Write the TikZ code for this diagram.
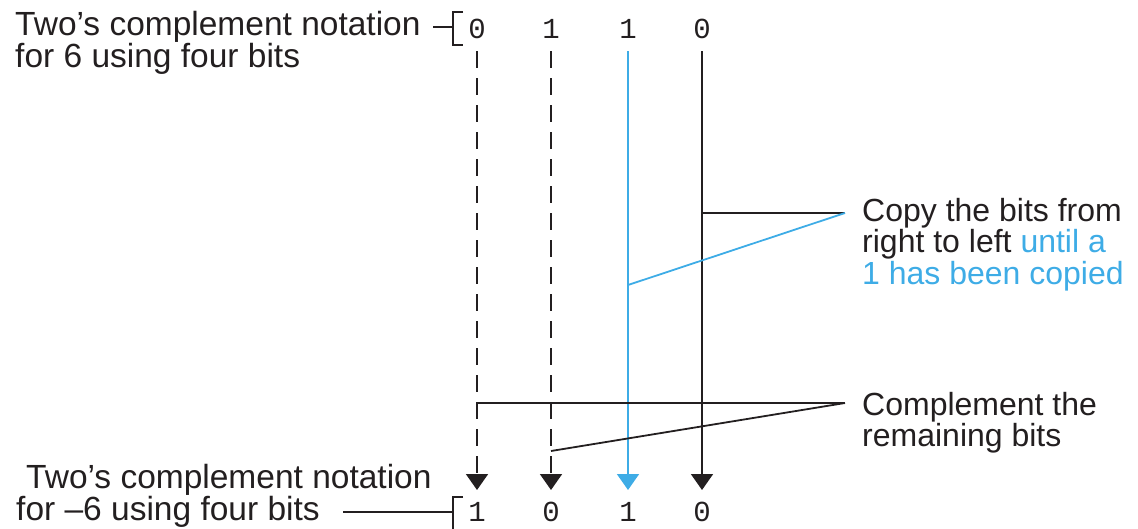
\documentclass[tikz,border=0pt]{standalone}
\usepackage{fontspec}
\setmainfont{Liberation Sans}
\newfontfamily\bitfont{Liberation Mono}
\usepackage{xcolor}
\usepackage{tikz}
\usetikzlibrary{arrows.meta}
\definecolor{inkblk}{RGB}{35,31,32}
\definecolor{inkblue}{RGB}{62,172,230}
\tikzset{
  bit/.style={font=\bitfont\fontsize{29}{29}\selectfont,text=inkblk,inner sep=0pt,
    text height=18pt,text depth=0pt,outer ysep=13pt},
  lbl/.style={font=\fontsize{32}{31.5}\selectfont,text=inkblk,align=left,inner sep=0pt,anchor=north west},
  lbll/.style={lbl,font=\fontsize{33.5}{32}\selectfont},
  lead/.style={draw=inkblk,line width=1.8pt},
  col/.style={line width=1.8pt,-{Triangle[width=22pt,length=16pt]}},
  dashcol/.style={col,dash pattern=on 17pt off 10pt}
}
\begin{document}
\begin{tikzpicture}[x=1pt,y=-1pt]
\useasboundingbox (0,0) rectangle (1138,528);
% bit rows
\node[bit] (t1) at (477,29) {0};
\node[bit] (t2) at (551,29) {1};
\node[bit] (t3) at (628,29) {1};
\node[bit] (t4) at (702,29) {0};
\node[bit] (b1) at (477,512) {1};
\node[bit] (b2) at (551,512) {0};
\node[bit] (b3) at (628,512) {1};
\node[bit] (b4) at (702,512) {0};
% columns
\draw[dashcol,inkblk] (t1.south) -- (b1.north);
\draw[dashcol,inkblk] (t2.south) -- (b2.north);
\draw[col,inkblue] (t3.south) -- (b3.north);
\draw[col,inkblk] (t4.south) -- (b4.north);
% labels
\node[lbll] (toplbl) at (15,11) {Two’s complement notation\\for 6 using four bits};
\node[lbll] (botlbl) at (16,464) {\hspace*{10pt}Two’s complement notation\\for –6 using four bits};
\node[lbl] (copytxt) at (862,198) {Copy the bits from\\right to left \textcolor{inkblue}{until a}\\\textcolor{inkblue}{1 has been copied}};
\node[lbl] (cmptxt) at (862,392) {Complement the\\remaining bits};
% brackets
\draw[lead,line width=1.5pt] (433,27) -- (453,27) (463,12) -| (453,45) -- (463,45);
\draw[lead,line width=1.5pt] (343,512) -- (453,512) (463,497) -| (453,530);
% leaders
\coordinate (cpin) at (845,213);
\coordinate (cmpin) at (845,403);
\draw[lead] (t4 |- cpin) -- (cpin);
\draw[lead,draw=inkblue] (t3 |- 0,285) -- (cpin);
\draw[lead] (t1 |- cmpin) -- (cmpin);
\draw[lead] (t2 |- 0,451) -- (cmpin);
\end{tikzpicture}
\end{document}
